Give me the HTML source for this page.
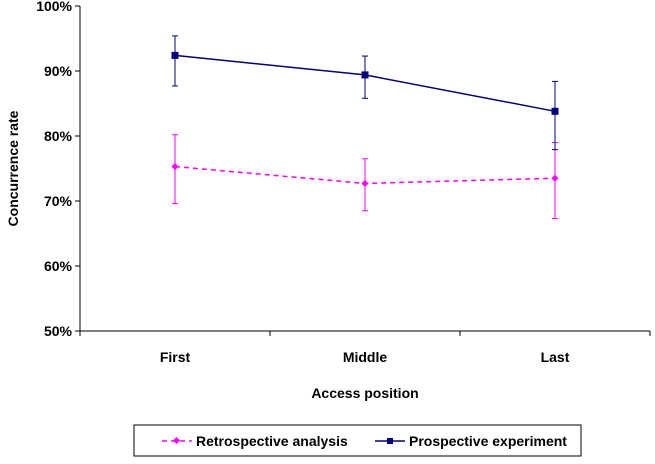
<!DOCTYPE html>
<html><head><meta charset="utf-8"><style>
body{margin:0;background:#fff;}
svg{display:block;font-family:"Liberation Sans",sans-serif;font-weight:bold;}
</style></head><body>
<svg id="chart" width="655" height="464">
<g id="axes"></g><g id="marks"></g>
<g>
<rect x="134" y="425" width="447" height="31" fill="#fff" stroke="#000" stroke-width="1"/>
<g>
<line x1="162" y1="441" x2="192" y2="441" stroke="#ff00ff" stroke-width="1.5" stroke-dasharray="5,4"/>
<rect x="174" y="438" width="5" height="5" fill="#ff00ff" transform="rotate(45 176.5 440.5)"/>
<text x="196" y="446" font-size="14" fill="#000">Retrospective analysis</text>
</g>
<g>
<line x1="375" y1="441" x2="405" y2="441" stroke="#000080" stroke-width="1.5"/>
<rect x="387" y="438" width="6" height="6" fill="#000080"/>
<text x="409" y="446" font-size="14" fill="#000">Prospective experiment</text>
</g>
</g>
</svg>
<script>
const categories=["First","Middle","Last"];
const yTicks=[50,60,70,80,90,100];
const retro=[75.3,72.7,73.5];
const retroHi=[80.2,76.5,79.0];
const retroLo=[69.6,68.5,67.3];
const prosp=[92.4,89.4,83.8];
const prospHi=[95.4,92.3,88.4];
const prospLo=[87.7,85.8,77.9];
const NS="http://www.w3.org/2000/svg";
const X0=80,X1=650,Y0=331,Y1=6;
const band=(X1-X0)/categories.length;
const xs=i=>X0+band*(i+0.5);
const ys=v=>Y0-(v-50)/50*(Y0-Y1);
function mk(tag,attrs,parent,text){const e=document.createElementNS(NS,tag);for(const k in attrs)e.setAttribute(k,attrs[k]);if(text!==undefined)e.textContent=text;parent.appendChild(e);return e;}
const axes=document.getElementById('axes'),marks=document.getElementById('marks');
let e=mk('line',{x1:X0,y1:Y1,x2:X0,y2:Y0,stroke:'#000'},axes);

e=mk('line',{x1:X0,y1:Y0,x2:X1,y2:Y0,stroke:'#000'},axes);

yTicks.forEach(t=>{const y=ys(t);
mk('line',{x1:X0-5,y1:y,x2:X0,y2:y,stroke:'#000'},axes);
e=mk('text',{x:X0-8,y:y+5,'text-anchor':'end','font-size':14},axes,t+'%');
});
for(let i=0;i<=categories.length;i++){const x=X0+band*i;mk('line',{x1:x,y1:Y0,x2:x,y2:Y0+5,stroke:'#000'},axes);}
categories.forEach((c,i)=>{e=mk('text',{x:xs(i),y:Y0+31,'text-anchor':'middle','font-size':14},axes,c);
});
e=mk('text',{x:(X0+X1)/2,y:Y0+67,'text-anchor':'middle','font-size':14},axes,'Access position');

e=mk('text',{x:0,y:0,'text-anchor':'middle','font-size':14,transform:`translate(18,${(Y0+Y1)/2}) rotate(-90)`},axes,'Concurrence rate');

function series(vals,hi,lo,color,dash,name,sq){
 const pts=vals.map((v,i)=>xs(i)+','+ys(v)).join(' ');
 e=mk('polyline',{points:pts,fill:'none',stroke:color,'stroke-width':1.5,'stroke-dasharray':dash},marks);
 
 vals.forEach((v,i)=>{const x=xs(i);
  e=mk('g',{},marks);
  
  mk('line',{x1:x,y1:ys(hi[i]),x2:x,y2:ys(lo[i]),stroke:color},e);
  mk('line',{x1:x-3,y1:ys(hi[i]),x2:x+3,y2:ys(hi[i]),stroke:color},e);
  mk('line',{x1:x-3,y1:ys(lo[i]),x2:x+3,y2:ys(lo[i]),stroke:color},e);
  const y=ys(v);
  if(sq) e=mk('rect',{x:x-3.5,y:y-3.5,width:7,height:7,fill:color},marks);
  else e=mk('rect',{x:x-2.5,y:y-2.5,width:5,height:5,fill:color,transform:`rotate(45 ${x} ${y})`},marks);
  
 });
}
series(retro,retroHi,retroLo,'#ff00ff','5,4','retrospective',false);
series(prosp,prospHi,prospLo,'#000080','none','prospective',true);
</script>
</body></html>
